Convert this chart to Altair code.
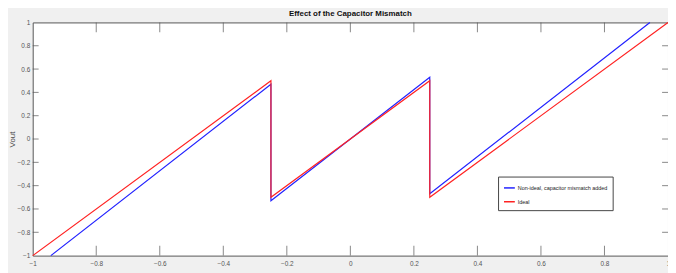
import altair as alt
import pandas as pd

# Data
x_nonideal = [-0.943, -0.25, -0.25, 0.25, 0.25, 0.943]
y_nonideal = [-1.0, 0.47, -0.53, 0.53, -0.47, 1.0]
x_ideal = [-1.0, -0.25, -0.25, 0.25, 0.25, 1.0]
y_ideal = [-1.0, 0.5, -0.5, 0.5, -0.5, 1.0]
series_names = ["Non-ideal, capacitor mismatch added", "Ideal"]
series_colors = ["#2222ff", "#ff2222"]
x_ticks = [-1, -0.8, -0.6, -0.4, -0.2, 0, 0.2, 0.4, 0.6, 0.8, 1]
y_ticks = [-1, -0.8, -0.6, -0.4, -0.2, 0, 0.2, 0.4, 0.6, 0.8, 1]
inner_x_ticks = [-0.8, -0.6, -0.4, -0.2, 0, 0.2, 0.4, 0.6, 0.8]
inner_y_ticks = [-0.8, -0.6, -0.4, -0.2, 0, 0.2, 0.4, 0.6, 0.8]

W, H = 643, 236
FONT = "Liberation Sans Narrow, Arial Narrow, Liberation Sans, sans-serif"

df_non = pd.DataFrame({"x": x_nonideal, "y": y_nonideal, "series": series_names[0],
                       "i": range(len(x_nonideal))})
df_ideal = pd.DataFrame({"x": x_ideal, "y": y_ideal, "series": series_names[1],
                         "i": range(len(x_ideal))})

xscale = alt.Scale(domain=[-1, 1], nice=False, zero=False)
yscale = alt.Scale(domain=[-1, 1], nice=False, zero=False)
cscale = alt.Scale(domain=series_names, range=series_colors)

xaxis = alt.Axis(values=x_ticks, tickSize=0, domain=False, grid=False, labelPadding=5,
                 labelFontSize=6.5, labelColor="#555555", labelFont=FONT, title=None,
                 labelFlush=False, labelOverlap=False, format="~g")
yaxis = alt.Axis(values=y_ticks, tickSize=0, domain=False, grid=False, labelPadding=3,
                 labelFontSize=6.5, labelColor="#555555", labelFont=FONT, title="Vout",
                 labelOverlap=False, labelFlush=False, format="~g",
                 titleFontSize=8, titleColor="#444444", titleFont=FONT, titleFontWeight="normal",
                 titleX=-20, titleY=H / 2, titleAngle=270, titleBaseline="middle",
                 titleAlign="center")

legend = alt.Legend(orient="none", legendX=471, legendY=156, title=None,
                    symbolType="stroke", symbolSize=120, symbolStrokeWidth=1.5,
                    labelFontSize=5.5, labelFont=FONT, labelColor="#222222",
                    fillColor="white", strokeColor="#444444", padding=5,
                    rowPadding=4, labelOffset=2, labelLimit=300)

line_non = alt.Chart(df_non).mark_line(strokeWidth=1.2).encode(
    x=alt.X("x:Q", scale=xscale, axis=xaxis),
    y=alt.Y("y:Q", scale=yscale, axis=yaxis),
    color=alt.Color("series:N", scale=cscale, legend=legend),
    order="i:Q",
)
line_ideal = alt.Chart(df_ideal).mark_line(strokeWidth=1.2).encode(
    x=alt.X("x:Q", scale=xscale, axis=xaxis),
    y=alt.Y("y:Q", scale=yscale, axis=yaxis),
    color=alt.Color("series:N", scale=cscale, legend=legend),
    order="i:Q",
)

xt = pd.DataFrame({"v": inner_x_ticks})
yt = pd.DataFrame({"v": inner_y_ticks})
tick_color = "#555555"
top_ticks = alt.Chart(xt).mark_tick(color=tick_color, size=10, thickness=1).encode(
    x=alt.X("v:Q", scale=xscale, axis=xaxis), y=alt.value(5))
bot_ticks = alt.Chart(xt).mark_tick(color=tick_color, size=10, thickness=1).encode(
    x=alt.X("v:Q", scale=xscale, axis=xaxis), y=alt.value(H - 5))
left_ticks = alt.Chart(yt).mark_tick(color=tick_color, size=6, thickness=1).encode(
    y=alt.Y("v:Q", scale=yscale, axis=yaxis), x=alt.value(3))
right_ticks = alt.Chart(yt).mark_tick(color=tick_color, size=6, thickness=1).encode(
    y=alt.Y("v:Q", scale=yscale, axis=yaxis), x=alt.value(W - 3))

chart = alt.layer(
    line_non, line_ideal, top_ticks, bot_ticks, left_ticks, right_ticks
).properties(
    width=W, height=H,
    title=alt.Title("Effect of the Capacitor Mismatch", fontSize=8, font=FONT,
                    fontWeight="bold", color="#111111", offset=2, anchor="middle"),
    background="#f0f0f0",
    autosize=alt.AutoSizeParams(type="none"),
    padding={"left": 25, "top": 13, "right": 0, "bottom": 16},
).configure_view(
    fill="white", stroke="#555555", strokeWidth=1
)

chart.save("out.html", embed_options={"renderer": "svg", "actions": False})
